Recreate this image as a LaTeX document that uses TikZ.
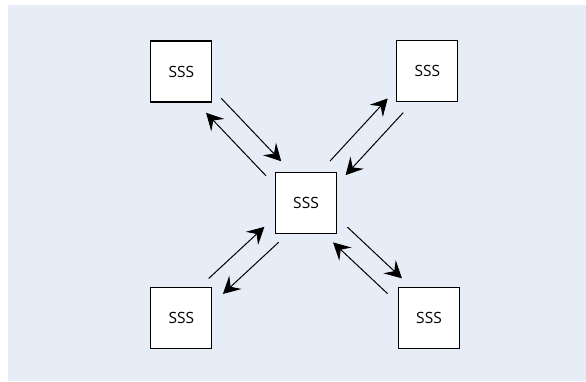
\documentclass[tikz,border=0pt]{standalone}
\usepackage{fontspec}
\setmainfont{Open Sans}
\usetikzlibrary{arrows.meta,calc}
\definecolor{sfondo}{HTML}{E6EDF6}
\begin{document}
\begin{tikzpicture}[x=1pt,y=-1pt,
	box/.style={draw, fill=white, line width=1.2pt, minimum width=61pt,
		minimum height=61pt, inner sep=0pt, font=\fontsize{15.5}{18}\selectfont},
	freccia/.style={-{Stealth[length=17pt,width=18pt,inset=6.5pt]},
		line width=1pt, shorten <=47pt, shorten >=47pt}]
	
	\useasboundingbox (0,0) rectangle (586,381);
	\fill[sfondo] (8,5) rectangle (586,381);
	
	%nodi
	\node[box] (centro) at (306,202.6) {SSS};
	\node[box] (nordovest) at (181.3,71.5) {SSS};
	\node[box] (nordest) at (427.3,71) {SSS};
	\node[box] (sudovest) at (181.3,318.2) {SSS};
	\node[box] (sudest) at (429,318.2) {SSS};
	
	%frecce
	\foreach \n in {nordovest,nordest,sudovest,sudest}{
		\draw[freccia] ($(\n.center)!10.5pt!90:(centro.center)$)
			-- ($(centro.center)!10.5pt!-90:(\n.center)$);
		\draw[freccia] ($(centro.center)!10.5pt!90:(\n.center)$)
			-- ($(\n.center)!10.5pt!-90:(centro.center)$);
	}
\end{tikzpicture}
\end{document}
